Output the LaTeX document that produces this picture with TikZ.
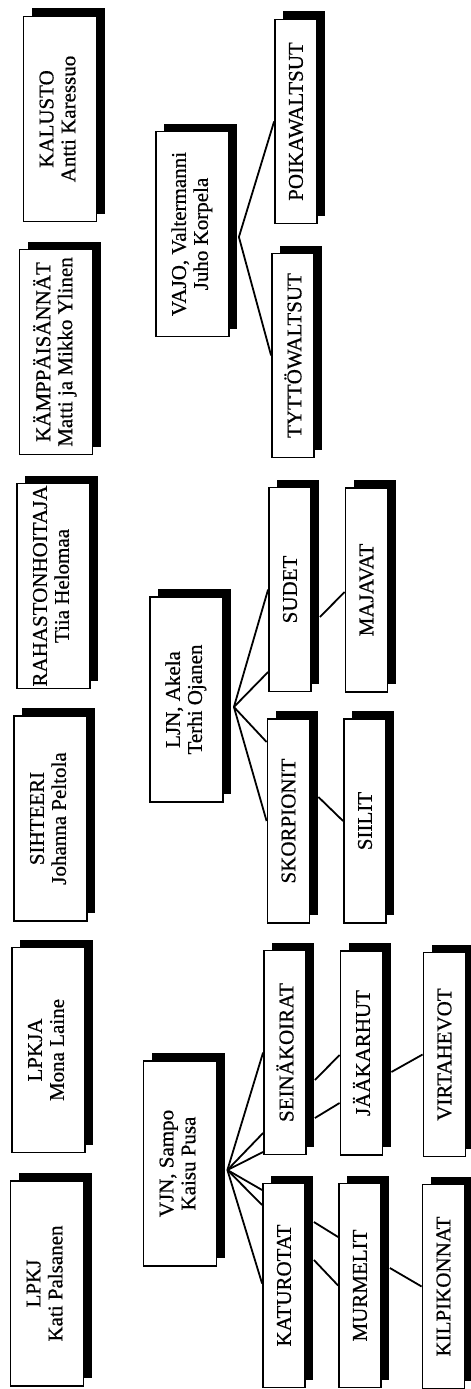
\documentclass[tikz,border=0pt]{standalone}
\usepackage{fontspec}
\setmainfont{Liberation Serif}[BoldFont={Liberation Serif}, BoldFeatures={FakeBold=0.6}]
\usetikzlibrary{shadows}

\newcommand{\sidetext}[1]{\rotatebox{90}{\begin{tabular}{@{}c@{}}#1\end{tabular}}}

\begin{document}
\begin{tikzpicture}[x=1pt, y=-1pt, every node/.style={font=\fontsize{21}{22}\selectfont\bfseries},
    box/.style={draw, line width=1.8pt, fill=white, inner sep=0pt,
                general shadow={fill=black, shadow xshift=8pt, shadow yshift=8pt}},
    office/.style={box, minimum width=73pt, minimum height=205pt},
    group/.style={box, minimum width=42pt, minimum height=204pt},
    link/.style={line width=1.8pt}]
    \useasboundingbox (0,0) rectangle (471,1389);

    % Column 0 - office holders
    \foreach \n/\cx/\cy/\txt in {kal/60/119/{KALUSTO\\Antti Karessuo},
                                 kam/56/352/{KÄMPPÄISÄNNÄT\\Matti ja Mikko Ylinen},
                                 rah/53.5/586/{RAHASTONHOITAJA\\Tiia Helomaa},
                                 sih/50.5/818.5/{SIHTEERI\\Johanna Peltola},
                                 lpkja/48.5/1050/{LPKJA\\Mona Laine},
                                 lpkj/47/1283.5/{LPKJ\\Kati Palsanen}} {
        \node[office] (\n) at (\cx,\cy) {\sidetext{\txt}};
    }

    % Column 1 - leaders
    \node[office] (vajo) at (192.5,234) {\sidetext{VAJO, Valtermanni\\Juho Korpela}};
    \node[office] (ljn) at (186.5,699.5) {\sidetext{LJN, Akela\\Terhi Ojanen}};
    \node[office] (vjn) at (180,1163.5) {\sidetext{VJN, Sampo\\Kaisu Pusa}};

    % Columns 2-4 - groups
    \foreach \n/\cx/\cy/\txt in {poi/296/121.5/POIKAWALTSUT, tyt/293/355.5/TYTTÖWALTSUT,
                                 sud/290/589.5/SUDET, sko/288.5/821/SKORPIONIT,
                                 sei/285/1052.5/SEINÄKOIRAT, kat/284/1285.5/KATUROTAT,
                                 maj/366.5/590/MAJAVAT, sii/365/821/SIILIT,
                                 jaa/361.5/1053/JÄÄKARHUT, mur/360/1285.5/MURMELIT,
                                 vir/444.5/1054.5/VIRTAHEVOT, kil/443.5/1286.5/KILPIKONNAT} {
        \node[group] (\n) at (\cx,\cy) {\rotatebox{90}{\txt}};
    }

    % Fan from each leader
    \coordinate (vajoA) at ([xshift=9pt, yshift=-3pt]vajo.east);
    \coordinate (ljnA) at ([xshift=10pt, yshift=-7.5pt]ljn.east);
    \coordinate (vjnA) at ([xshift=10pt, yshift=-6.5pt]vjn.east);

    \draw[link] (vajoA) -- (poi.west); \draw[link] (vajoA) -- (tyt.west);

    \draw[link] (ljnA) -- (sud.west); \draw[link] (ljnA) -- ([yshift=-82.5pt]sud.west);
    \draw[link] (ljnA) -- ([yshift=79pt]sko.west); \draw[link] (ljnA) -- (sko.west);

    \foreach \s in {0,-80.5,-99.5}
        \draw[link] (vjnA) -- ([yshift=\s pt]sei.west);
    \foreach \s in {95.5,80.5,2}
        \draw[link] (vjnA) -- ([yshift=\s pt]kat.west);

    % Links between groups
    \draw[link] ([xshift=8pt, yshift=-27.5pt]sud.east) -- ([yshift=-2pt]maj.west);
    \draw[link] ([xshift=8pt, yshift=24pt]sko.east) -- (sii.west);
    \draw[link] ([xshift=8pt, yshift=-27.5pt]sei.east) -- ([yshift=-2pt]jaa.west);
    \draw[link] ([xshift=8pt, yshift=-65.5pt]sei.east) -- ([yshift=-50pt]jaa.west);
    \draw[link] ([xshift=8pt, yshift=-19pt]jaa.east) -- (vir.west);
    \draw[link] ([xshift=8pt, yshift=63.5pt]kat.east) -- ([yshift=48.5pt]mur.west);
    \draw[link] ([xshift=8pt, yshift=25.5pt]kat.east) -- (mur.west);
    \draw[link] ([xshift=8pt, yshift=17.5pt]mur.east) -- (kil.west);
\end{tikzpicture}
\end{document}
